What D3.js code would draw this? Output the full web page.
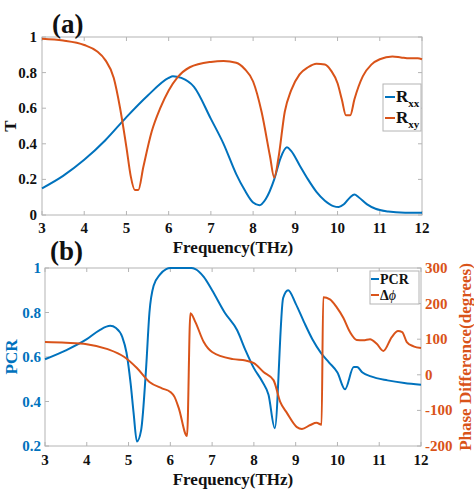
<!DOCTYPE html>
<html><head><meta charset="utf-8">
<script src="https://cdn.jsdelivr.net/npm/d3@7"></script>
<style>
body{margin:0;background:#fff;}
svg{display:block;}
</style></head>
<body>
<svg id="chart" width="474" height="490" font-family="Liberation Serif" font-weight="bold"></svg>
<script>
// ---------- data ----------
const xTicks = [3,4,5,6,7,8,9,10,11,12];
const tTicks = [0,0.2,0.4,0.6,0.8,1];
const pcrTicks = [0.2,0.4,0.6,0.8,1];
const phaseTicks = [-200,-100,0,100,200,300];

const rxxF = [3,3.5,4,4.5,5,5.5,6,6.1,6.3,6.6,7,7.3,7.6,7.8,8,8.15,8.3,8.5,8.65,8.8,8.9,9.1,9.3,9.5,9.7,9.9,10.03,10.15,10.3,10.4,10.5,10.7,10.9,11.2,11.6,12];
const rxxV = [0.15,0.22,0.31,0.42,0.55,0.67,0.77,0.78,0.77,0.72,0.54,0.40,0.23,0.14,0.07,0.055,0.09,0.2,0.32,0.38,0.36,0.28,0.2,0.13,0.08,0.05,0.045,0.06,0.1,0.115,0.1,0.06,0.035,0.02,0.013,0.012];

const rxyF = [3,3.5,4,4.3,4.5,4.7,4.85,5.0,5.1,5.2,5.28,5.4,5.6,5.8,6.0,6.2,6.5,7,7.3,7.6,7.8,8.0,8.2,8.4,8.5,8.6,8.75,8.9,9.1,9.3,9.5,9.7,9.85,10.0,10.1,10.2,10.3,10.4,10.6,10.8,11,11.3,11.5,11.7,11.9,12];
const rxyV = [0.99,0.98,0.955,0.92,0.87,0.77,0.6,0.38,0.22,0.14,0.14,0.27,0.47,0.6,0.7,0.77,0.83,0.86,0.865,0.855,0.82,0.75,0.58,0.33,0.21,0.32,0.58,0.7,0.79,0.83,0.85,0.845,0.81,0.74,0.65,0.56,0.56,0.65,0.78,0.845,0.875,0.89,0.885,0.88,0.88,0.875];

const pcrF = [3,3.5,4,4.3,4.56,4.7,4.85,4.95,5.05,5.12,5.2,5.3,5.42,5.5,5.6,5.75,5.9,6.0,6.5,6.6,6.8,7.0,7.3,7.6,7.8,8.0,8.2,8.35,8.5,8.7,8.82,9.0,9.2,9.4,9.6,9.8,10.0,10.18,10.39,10.47,10.6,10.8,11.2,11.6,12];
const pcrV = [0.59,0.63,0.68,0.72,0.74,0.73,0.69,0.62,0.48,0.35,0.22,0.27,0.55,0.8,0.92,0.97,0.995,1.0,1.0,0.995,0.96,0.9,0.8,0.72,0.63,0.55,0.49,0.43,0.28,0.865,0.9,0.84,0.757,0.68,0.62,0.575,0.53,0.455,0.555,0.555,0.53,0.513,0.495,0.483,0.475];

const phF = [3,3.5,4,4.5,4.9,5.2,5.5,5.8,6.0,6.1,6.2,6.4,6.48,6.6,6.8,7.0,7.5,7.8,8.0,8.23,8.47,8.63,8.79,9.03,9.15,9.35,9.5,9.62,9.66,9.82,9.98,10.14,10.3,10.46,10.62,10.78,10.94,11.1,11.3,11.45,11.55,11.66,11.82,12];
const phV = [92,90,86,72,50,19,-20,-38,-48,-62,-93,-172,173,148,92,64,44,40,33,8,-15,-76,-107,-147,-152,-141,-135,-140,218,212,190,160,120,98,97,100,87,67,106,123,120,92,80,75];

// ---------- style ----------
const BLUE = "#0072BD", ORANGE = "#D95319", AX = "#b4b4b4";
const svg = d3.select("#chart");

function frame(g, x, y, w, h){
  g.append("rect").attr("x",x).attr("y",y).attr("width",w).attr("height",h)
   .attr("fill","none").attr("stroke",AX).attr("stroke-width",1);
}

// ---------- panel (a) ----------
const A = {l:42,r:422,t:37,b:215};
const xa = d3.scaleLinear().domain([3,12]).range([A.l,A.r]);
const ya = d3.scaleLinear().domain([0,1]).range([A.b,A.t]);
const ga = svg.append("g");
frame(ga, A.l, A.t, A.r-A.l, A.b-A.t);
ga.selectAll(".xt").data(xTicks).enter().append("line")
  .attr("x1",d=>xa(d)).attr("x2",d=>xa(d)).attr("y1",A.b).attr("y2",A.b-4).attr("stroke",AX);
ga.selectAll(".xt2").data(xTicks).enter().append("line")
  .attr("x1",d=>xa(d)).attr("x2",d=>xa(d)).attr("y1",A.t).attr("y2",A.t+4).attr("stroke",AX);
ga.selectAll(".yt").data(tTicks).enter().append("line")
  .attr("x1",A.l).attr("x2",A.l+4).attr("y1",d=>ya(d)).attr("y2",d=>ya(d)).attr("stroke",AX);
ga.selectAll(".yt2").data(tTicks).enter().append("line")
  .attr("x1",A.r).attr("x2",A.r-4).attr("y1",d=>ya(d)).attr("y2",d=>ya(d)).attr("stroke",AX);
ga.selectAll(".xl").data(xTicks).enter().append("text")
  .attr("x",d=>xa(d)).attr("y",A.b+18).attr("text-anchor","middle").attr("font-size",15).attr("fill","#111").text(d=>d);
ga.selectAll(".yl").data(tTicks).enter().append("text")
  .attr("x",A.l-5).attr("y",d=>ya(d)+5).attr("text-anchor","end").attr("font-size",15).attr("fill","#111").text(d=>d);

const lineA = d3.line().curve(d3.curveMonotoneX);
ga.append("path").attr("d",lineA(rxxF.map((f,i)=>[xa(f),ya(rxxV[i])])))
  .attr("fill","none").attr("stroke",BLUE).attr("stroke-width",2);
ga.append("path").attr("d",lineA(rxyF.map((f,i)=>[xa(f),ya(rxyV[i])])))
  .attr("fill","none").attr("stroke",ORANGE).attr("stroke-width",2);

ga.append("text").attr("x",52).attr("y",33).attr("font-size",27).attr("fill","#111").text("(a)");
ga.append("text").attr("transform","translate(16,126) rotate(-90)").attr("text-anchor","middle")
  .attr("font-size",17).attr("fill","#111").text("T");
ga.append("text").attr("x",233).attr("y",253).attr("text-anchor","middle").attr("font-size",17).attr("fill","#111").text("Frequency(THz)");

// legend (a)
const la = ga.append("g");
la.append("rect").attr("x",383).attr("y",84).attr("width",38).attr("height",47).attr("fill","#fff").attr("stroke",AX);
[[BLUE,"xx",97],[ORANGE,"xy",118]].forEach(([c,s,yy])=>{
  la.append("line").attr("x1",385).attr("x2",395).attr("y1",yy).attr("y2",yy).attr("stroke",c).attr("stroke-width",2);
  const t = la.append("text").attr("x",396).attr("y",yy+5).attr("font-size",17).attr("fill","#111");
  t.append("tspan").text("R");
  t.append("tspan").attr("font-size",11).attr("dy",5).text(s);
});

// ---------- panel (b) ----------
const B = {l:45,r:421,t:268,b:446};
const xb = d3.scaleLinear().domain([3,12]).range([B.l,B.r]);
const yb = d3.scaleLinear().domain([0.2,1]).range([B.b,B.t]);
const yp = d3.scaleLinear().domain([-200,300]).range([B.b,B.t]);
const gb = svg.append("g");
frame(gb, B.l, B.t, B.r-B.l, B.b-B.t);
gb.selectAll(".xt").data(xTicks).enter().append("line")
  .attr("x1",d=>xb(d)).attr("x2",d=>xb(d)).attr("y1",B.b).attr("y2",B.b-4).attr("stroke",AX);
gb.selectAll(".xt2").data(xTicks).enter().append("line")
  .attr("x1",d=>xb(d)).attr("x2",d=>xb(d)).attr("y1",B.t).attr("y2",B.t+4).attr("stroke",AX);
gb.selectAll(".yt").data(pcrTicks).enter().append("line")
  .attr("x1",B.l).attr("x2",B.l+4).attr("y1",d=>yb(d)).attr("y2",d=>yb(d)).attr("stroke",AX);
gb.selectAll(".yt2").data(phaseTicks).enter().append("line")
  .attr("x1",B.r).attr("x2",B.r-4).attr("y1",d=>yp(d)).attr("y2",d=>yp(d)).attr("stroke",AX);
gb.selectAll(".xl").data(xTicks).enter().append("text")
  .attr("x",d=>xb(d)).attr("y",B.b+19).attr("text-anchor","middle").attr("font-size",15).attr("fill","#111").text(d=>d);
gb.selectAll(".yl").data(pcrTicks).enter().append("text")
  .attr("x",B.l-4).attr("y",d=>yb(d)+5).attr("text-anchor","end").attr("font-size",15).attr("fill",BLUE).text(d=>d);
gb.selectAll(".yr").data(phaseTicks).enter().append("text")
  .attr("x",B.r+4).attr("y",d=>yp(d)+5).attr("text-anchor","start").attr("font-size",15).attr("fill",ORANGE).text(d=>d);

const lineB = d3.line().curve(d3.curveMonotoneX);
gb.append("path").attr("d",lineB(pcrF.map((f,i)=>[xb(f),yb(pcrV[i])])))
  .attr("fill","none").attr("stroke",BLUE).attr("stroke-width",2);
gb.append("path").attr("d",lineB(phF.map((f,i)=>[xb(f),yp(phV[i])])))
  .attr("fill","none").attr("stroke",ORANGE).attr("stroke-width",2);

gb.append("text").attr("x",50).attr("y",260).attr("font-size",27).attr("fill","#111").text("(b)");
gb.append("text").attr("transform","translate(17,357) rotate(-90)").attr("text-anchor","middle")
  .attr("font-size",17).attr("fill",BLUE).text("PCR");
gb.append("text").attr("transform","translate(471,357) rotate(-90)").attr("text-anchor","middle")
  .attr("font-size",17).attr("fill",ORANGE).text("Phase Difference(degrees)");
gb.append("text").attr("x",233).attr("y",485).attr("text-anchor","middle").attr("font-size",17).attr("fill","#111").text("Frequency(THz)");

// legend (b)
const lb = gb.append("g");
lb.append("rect").attr("x",370).attr("y",271).attr("width",49).attr("height",33).attr("fill","#fff").attr("stroke",AX);
lb.append("line").attr("x1",371).attr("x2",379).attr("y1",279).attr("y2",279).attr("stroke",BLUE).attr("stroke-width",2);
lb.append("text").attr("x",380).attr("y",284).attr("font-size",14).attr("fill","#111").text("PCR");
lb.append("line").attr("x1",371).attr("x2",379).attr("y1",295).attr("y2",295).attr("stroke",ORANGE).attr("stroke-width",2);
const dt = lb.append("text").attr("x",380).attr("y",300).attr("font-size",14).attr("fill","#111");
dt.append("tspan").text("Δ");
dt.append("tspan").attr("font-style","italic").attr("font-weight","normal").text("ϕ");
</script>
</body></html>
